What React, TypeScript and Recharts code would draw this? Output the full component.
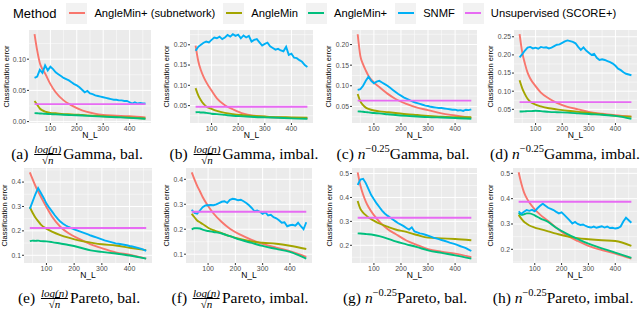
import React from "react";
import { LineChart, Line, XAxis, YAxis, CartesianGrid } from "recharts";

// ──────────────────────────────────────────────
// Data
// ──────────────────────────────────────────────

// N_L values: SNMF curves are read every 10, the smooth ones at fewer points
const N_SNMF = [
  40, 50, 60, 70, 80, 90, 100, 110, 120, 130, 140, 150, 160, 170, 180, 190, 200,
  210, 220, 230, 240, 250, 260, 270, 280, 290, 300, 310, 320, 330, 340, 350, 360,
  370, 380, 390, 400, 410, 420, 430, 440, 450, 460,
];
const N_SMOOTH = [40, 50, 60, 70, 80, 100, 120, 150, 180, 220, 260, 300, 350, 400, 460];
const N_FLAT = [40, 460];

// (a) log(n)/sqrt(n), Gamma, bal.
const A_SUB = [0.14, 0.114, 0.094, 0.084, 0.077, 0.06, 0.047, 0.034, 0.026, 0.018, 0.0135, 0.0105, 0.0095, 0.0085, 0.0065];
const A_MIN = [0.033, 0.027, 0.021, 0.018, 0.016, 0.014, 0.0133, 0.012, 0.0115, 0.0105, 0.0095, 0.0085, 0.0075, 0.0065, 0.005];
const A_PLUS = [0.0135, 0.0133, 0.013, 0.0128, 0.0125, 0.012, 0.0115, 0.011, 0.0104, 0.0097, 0.0088, 0.008, 0.007, 0.006, 0.0045];
const A_SNMF = [
  0.07, 0.072, 0.083, 0.078, 0.09, 0.082, 0.088, 0.084, 0.079, 0.076, 0.073, 0.07, 0.068, 0.066, 0.063, 0.06, 0.058,
  0.055, 0.051, 0.047, 0.049, 0.045, 0.044, 0.042, 0.041, 0.04, 0.039, 0.038, 0.037, 0.036, 0.035, 0.035, 0.034,
  0.034, 0.033, 0.033, 0.031, 0.029, 0.031, 0.029, 0.03, 0.029, 0.029,
];
const A_UNSUP = 0.028;

// (b) log(n)/sqrt(n), Gamma, imbal.
const B_SUB = [0.198, 0.16, 0.137, 0.121, 0.108, 0.087, 0.068, 0.051, 0.041, 0.03, 0.025, 0.0225, 0.0205, 0.0198, 0.0185];
const B_MIN = [0.093, 0.075, 0.063, 0.054, 0.048, 0.042, 0.037, 0.032, 0.029, 0.0265, 0.0245, 0.023, 0.0215, 0.021, 0.02];
const B_PLUS = [0.0335, 0.034, 0.033, 0.033, 0.032, 0.03, 0.029, 0.027, 0.025, 0.0235, 0.022, 0.021, 0.02, 0.0185, 0.0175];
const B_SNMF = [
  0.185, 0.195, 0.2, 0.205, 0.208, 0.206, 0.212, 0.218, 0.216, 0.22, 0.214, 0.218, 0.224, 0.22, 0.226, 0.222, 0.225,
  0.216, 0.223, 0.218, 0.222, 0.208, 0.212, 0.214, 0.206, 0.198, 0.202, 0.205, 0.196, 0.192, 0.188, 0.19, 0.186,
  0.184, 0.195, 0.175, 0.178, 0.168, 0.167, 0.162, 0.158, 0.15, 0.145,
];
const B_UNSUP = 0.047;

// (c) n^-0.25, Gamma, bal.
const C_SUB = [0.225, 0.172, 0.152, 0.137, 0.124, 0.108, 0.097, 0.081, 0.068, 0.056, 0.047, 0.041, 0.033, 0.028, 0.022];
const C_MIN = [0.08, 0.062, 0.053, 0.047, 0.044, 0.04, 0.038, 0.036, 0.034, 0.031, 0.029, 0.027, 0.025, 0.024, 0.024];
const C_PLUS = [0.038, 0.0375, 0.037, 0.036, 0.0355, 0.034, 0.033, 0.031, 0.029, 0.027, 0.0255, 0.024, 0.023, 0.022, 0.02];
const C_SNMF = [
  0.09, 0.092, 0.1, 0.112, 0.122, 0.112, 0.106, 0.11, 0.112, 0.108, 0.104, 0.1, 0.095, 0.09, 0.085, 0.08, 0.076,
  0.072, 0.069, 0.066, 0.063, 0.06, 0.058, 0.056, 0.054, 0.052, 0.051, 0.049, 0.048, 0.047, 0.046, 0.046, 0.045,
  0.044, 0.043, 0.042, 0.042, 0.04, 0.041, 0.039, 0.042, 0.041, 0.043,
];
const C_UNSUP = 0.064;

// (d) n^-0.25, Gamma, imbal.
const D_SUB = [0.257, 0.207, 0.176, 0.151, 0.135, 0.114, 0.096, 0.08, 0.068, 0.057, 0.05, 0.043, 0.038, 0.034, 0.03];
const D_MIN = [0.13, 0.108, 0.092, 0.079, 0.071, 0.063, 0.058, 0.053, 0.05, 0.046, 0.043, 0.04, 0.036, 0.032, 0.03];
const D_PLUS = [0.044, 0.044, 0.0445, 0.045, 0.045, 0.046, 0.045, 0.043, 0.042, 0.041, 0.039, 0.037, 0.035, 0.032, 0.024];
const D_SNMF = [
  0.193, 0.202, 0.212, 0.22, 0.222, 0.218, 0.22, 0.217, 0.222, 0.22, 0.221, 0.218, 0.22, 0.224, 0.228, 0.229, 0.233,
  0.237, 0.24, 0.238, 0.236, 0.232, 0.222, 0.214, 0.221, 0.212, 0.206, 0.2, 0.203, 0.192, 0.186, 0.188, 0.186,
  0.183, 0.18, 0.176, 0.17, 0.162, 0.158, 0.152, 0.148, 0.146, 0.144,
];
const D_UNSUP = 0.07;

// (e) log(n)/sqrt(n), Pareto, bal.
const E_SUB = [0.44, 0.412, 0.385, 0.362, 0.34, 0.298, 0.259, 0.217, 0.19, 0.166, 0.145, 0.129, 0.112, 0.102, 0.086];
const E_MIN = [0.298, 0.274, 0.255, 0.24, 0.226, 0.209, 0.197, 0.183, 0.172, 0.16, 0.152, 0.145, 0.14, 0.131, 0.121];
const E_PLUS = [0.158, 0.16, 0.159, 0.16, 0.158, 0.157, 0.154, 0.148, 0.142, 0.132, 0.12, 0.114, 0.107, 0.099, 0.086];
const E_SNMF = [
  0.29, 0.32, 0.35, 0.375, 0.355, 0.335, 0.312, 0.295, 0.28, 0.264, 0.25, 0.238, 0.229, 0.222, 0.216, 0.211, 0.206,
  0.202, 0.198, 0.194, 0.19, 0.186, 0.181, 0.177, 0.173, 0.169, 0.165, 0.161, 0.158, 0.155, 0.152, 0.149, 0.147,
  0.145, 0.143, 0.141, 0.138, 0.136, 0.133, 0.13, 0.127, 0.123, 0.118,
];
const E_UNSUP = 0.212;

// (f) log(n)/sqrt(n), Pareto, imbal.
const F_SUB = [0.428, 0.4, 0.374, 0.352, 0.329, 0.293, 0.263, 0.229, 0.202, 0.177, 0.157, 0.141, 0.126, 0.112, 0.089];
const F_MIN = [0.262, 0.248, 0.235, 0.228, 0.221, 0.206, 0.196, 0.184, 0.172, 0.16, 0.151, 0.146, 0.142, 0.134, 0.121];
const F_PLUS = [0.199, 0.204, 0.204, 0.203, 0.198, 0.193, 0.189, 0.183, 0.172, 0.157, 0.145, 0.133, 0.121, 0.109, 0.082];
const F_SNMF = [
  0.278, 0.265, 0.262, 0.275, 0.288, 0.295, 0.296, 0.297, 0.296, 0.3, 0.305, 0.31, 0.312, 0.306, 0.318, 0.322, 0.32,
  0.316, 0.318, 0.312, 0.305, 0.296, 0.285, 0.272, 0.275, 0.27, 0.262, 0.268, 0.255, 0.258, 0.248, 0.244, 0.236,
  0.226, 0.228, 0.212, 0.216, 0.218, 0.214, 0.226, 0.212, 0.2, 0.228,
];
const F_UNSUP = 0.27;

// (g) n^-0.25, Pareto, bal.
const G_SUB = [0.505, 0.45, 0.412, 0.383, 0.36, 0.326, 0.299, 0.268, 0.247, 0.22, 0.201, 0.184, 0.173, 0.165, 0.15];
const G_MIN = [0.385, 0.352, 0.337, 0.326, 0.316, 0.303, 0.291, 0.278, 0.266, 0.256, 0.243, 0.232, 0.229, 0.226, 0.221];
const G_PLUS = [0.25, 0.249, 0.248, 0.247, 0.246, 0.243, 0.238, 0.228, 0.216, 0.204, 0.192, 0.179, 0.168, 0.158, 0.144];
const G_SNMF = [
  0.452, 0.475, 0.478, 0.46, 0.435, 0.41, 0.392, 0.375, 0.36, 0.345, 0.333, 0.324, 0.316, 0.308, 0.3, 0.292, 0.286,
  0.28, 0.272, 0.266, 0.275, 0.258, 0.254, 0.25, 0.248, 0.244, 0.24, 0.236, 0.232, 0.229, 0.226, 0.222, 0.219,
  0.215, 0.211, 0.208, 0.205, 0.201, 0.196, 0.192, 0.188, 0.182, 0.176,
];
const G_UNSUP = 0.315;

// (h) n^-0.25, Pareto, imbal.
const H_SUB = [0.504, 0.46, 0.425, 0.402, 0.385, 0.358, 0.337, 0.312, 0.285, 0.255, 0.233, 0.214, 0.197, 0.183, 0.163];
const H_MIN = [0.336, 0.321, 0.309, 0.301, 0.294, 0.286, 0.28, 0.271, 0.262, 0.251, 0.244, 0.24, 0.236, 0.233, 0.214];
const H_PLUS = [0.343, 0.336, 0.338, 0.342, 0.342, 0.334, 0.322, 0.308, 0.285, 0.261, 0.241, 0.222, 0.204, 0.187, 0.166];
const H_SNMF = [
  0.35, 0.34, 0.348, 0.355, 0.352, 0.356, 0.35, 0.362, 0.372, 0.38, 0.372, 0.364, 0.36, 0.355, 0.348, 0.342, 0.346,
  0.336, 0.325, 0.314, 0.302, 0.308, 0.3, 0.296, 0.298, 0.292, 0.288, 0.286, 0.29, 0.285, 0.288, 0.291, 0.286,
  0.29, 0.284, 0.285, 0.282, 0.284, 0.29, 0.31, 0.325, 0.315, 0.305,
];
const H_UNSUP = 0.388;

// ──────────────────────────────────────────────
// Constants
// ──────────────────────────────────────────────

const METHODS = [
  { key: "sub", name: "AngleMin+ (subnetwork)", color: "#F8766D" },
  { key: "min", name: "AngleMin", color: "#A3A500" },
  { key: "plus", name: "AngleMin+", color: "#00BF7D" },
  { key: "snmf", name: "SNMF", color: "#00B0F6" },
  { key: "unsup", name: "Unsupervised (SCORE+)", color: "#E76BF3" },
];

const SANS = '"Liberation Sans", Arial, sans-serif';
const SERIF = '"Liberation Serif", "Times New Roman", serif';
const X_TICKS = [100, 200, 300, 400];
const X_MINOR = [50, 150, 250, 350, 450];
const X_DOMAIN = [19, 481];
const XH = 18;

type PanelSpec = {
  id: string;
  kind: "log" | "pow";
  text: string;
  sub: number[];
  min: number[];
  plus: number[];
  snmf: number[];
  unsup: number;
  yTicks: number[];
  digits: number;
  col: number; // left edge of chart box
  plotLeft: number;
  plotW: number;
  plotTop: number;
  plotH: number;
  labelX: number;
  capX: number;
  capY: number;
};

const TOP = { plotTop: 30, plotH: 93, capY: 143 };
const BOT = { plotTop: 168, plotH: 95, capY: 287 };

const PANELS: PanelSpec[] = [
  { id: "a", kind: "log", text: "Gamma, bal.", sub: A_SUB, min: A_MIN, plus: A_PLUS, snmf: A_SNMF, unsup: A_UNSUP, yTicks: [0, 0.05, 0.1], digits: 2, col: 0, plotLeft: 29, plotW: 122, labelX: 6, capX: 77, ...TOP },
  { id: "b", kind: "log", text: "Gamma, imbal.", sub: B_SUB, min: B_MIN, plus: B_PLUS, snmf: B_SNMF, unsup: B_UNSUP, yTicks: [0.05, 0.1, 0.15, 0.2], digits: 2, col: 160, plotLeft: 190, plotW: 123, labelX: 6.5, capX: 244, ...TOP },
  { id: "c", kind: "pow", text: "Gamma, bal.", sub: C_SUB, min: C_MIN, plus: C_PLUS, snmf: C_SNMF, unsup: C_UNSUP, yTicks: [0.05, 0.1, 0.15, 0.2], digits: 2, col: 320, plotLeft: 352, plotW: 125, labelX: 8.5, capX: 403, ...TOP },
  { id: "d", kind: "pow", text: "Gamma, imbal.", sub: D_SUB, min: D_MIN, plus: D_PLUS, snmf: D_SNMF, unsup: D_UNSUP, yTicks: [0.05, 0.1, 0.15, 0.2, 0.25], digits: 2, col: 480, plotLeft: 514, plotW: 123, labelX: 10, capX: 565, ...TOP },
  { id: "e", kind: "log", text: "Pareto, bal.", sub: E_SUB, min: E_MIN, plus: E_PLUS, snmf: E_SNMF, unsup: E_UNSUP, yTicks: [0.1, 0.2, 0.3, 0.4], digits: 1, col: 0, plotLeft: 24, plotW: 128, labelX: 4, capX: 79, ...BOT },
  { id: "f", kind: "log", text: "Pareto, imbal.", sub: F_SUB, min: F_MIN, plus: F_PLUS, snmf: F_SNMF, unsup: F_UNSUP, yTicks: [0.1, 0.2, 0.3, 0.4], digits: 1, col: 160, plotLeft: 186, plotW: 126, labelX: 6, capX: 240, ...BOT },
  { id: "g", kind: "pow", text: "Pareto, bal.", sub: G_SUB, min: G_MIN, plus: G_PLUS, snmf: G_SNMF, unsup: G_UNSUP, yTicks: [0.2, 0.3, 0.4, 0.5], digits: 1, col: 320, plotLeft: 352, plotW: 125, labelX: 9, capX: 405, ...BOT },
  { id: "h", kind: "pow", text: "Pareto, imbal.", sub: H_SUB, min: H_MIN, plus: H_PLUS, snmf: H_SNMF, unsup: H_UNSUP, yTicks: [0.2, 0.3, 0.4, 0.5], digits: 1, col: 480, plotLeft: 513, plotW: 124, labelX: 10, capX: 563, ...BOT },
];

// ──────────────────────────────────────────────
// Helpers
// ──────────────────────────────────────────────

const zip = (ns: number[], vs: number[]) => ns.map((n, i) => ({ n, v: vs[i] }));

// ggplot-like 5% expansion of the data range
const expand = (vals: number[]) => {
  const lo = Math.min(...vals);
  const hi = Math.max(...vals);
  const pad = (hi - lo) * 0.05;
  return [lo - pad, hi + pad];
};

const minorOf = (ticks: number[], dom: number[]) => {
  const step = ticks[1] - ticks[0];
  const out = ticks.map((t) => t - step / 2).concat(ticks[ticks.length - 1] + step / 2);
  return out.filter((v) => v > dom[0] && v < dom[1]);
};

// ──────────────────────────────────────────────
// Pieces
// ──────────────────────────────────────────────

function Caption({ p }: { p: PanelSpec }) {
  const small = { fontStyle: "italic", fontSize: 11, lineHeight: "10px" } as const;
  return (
    <div
      style={{
        position: "absolute",
        left: p.capX,
        top: p.capY,
        height: 22,
        transform: "translateX(-50%)",
        display: "flex",
        alignItems: "center",
        whiteSpace: "nowrap",
        fontFamily: SERIF,
        fontSize: 15.5,
        lineHeight: "16px",
        color: "#000",
      }}
    >
      <span>({p.id})&nbsp;</span>
      {p.kind === "log" ? (
        <span style={{ display: "inline-flex", flexDirection: "column", alignItems: "center", margin: "0 2px" }}>
          <span style={small}>log(n)</span>
          <span style={{ alignSelf: "stretch", borderTop: "0.8px solid #000" }} />
          <span style={{ ...small, fontStyle: "normal" }}>
            √<span style={{ fontStyle: "italic", borderTop: "0.7px solid #000" }}>n</span>
          </span>
        </span>
      ) : (
        <span>
          <i>n</i>
          <sup style={{ fontSize: 10.5, lineHeight: 0, position: "relative", top: -1 }}>−0.25</sup>
        </span>
      )}
      <span>{p.text}</span>
    </div>
  );
}

function Panel({ p }: { p: PanelSpec }) {
  const yDomain = expand([...p.sub, ...p.min, ...p.plus, ...p.snmf, p.unsup]);
  const series = [
    { ...METHODS[0], data: zip(N_SMOOTH, p.sub), curve: "monotone" },
    { ...METHODS[1], data: zip(N_SMOOTH, p.min), curve: "monotone" },
    { ...METHODS[2], data: zip(N_SMOOTH, p.plus), curve: "monotone" },
    { ...METHODS[3], data: zip(N_SNMF, p.snmf), curve: "linear" },
    { ...METHODS[4], data: zip(N_FLAT, [p.unsup, p.unsup]), curve: "linear" },
  ];
  const yw = p.plotLeft - p.col;
  const tickStyle = { fontSize: 6.8, fill: "#4D4D4D", fontFamily: SANS };

  return (
    <div style={{ position: "absolute", left: p.col, top: p.plotTop }}>
      <LineChart
        width={yw + p.plotW}
        height={p.plotH + XH}
        margin={{ top: 0, right: 0, bottom: 0, left: 0 }}
      >
        <CartesianGrid
          fill="#EBEBEB"
          stroke="#FFFFFF"
          strokeWidth={0.5}
          horizontalValues={minorOf(p.yTicks, yDomain)}
          verticalValues={X_MINOR}
        />
        <CartesianGrid
          stroke="#FFFFFF"
          strokeWidth={1}
          horizontalValues={p.yTicks}
          verticalValues={X_TICKS}
        />
        <XAxis
          type="number"
          dataKey="n"
          domain={X_DOMAIN}
          ticks={X_TICKS}
          interval={0}
          height={XH}
          axisLine={false}
          tickLine={{ stroke: "#333333" }}
          tickSize={2}
          tickMargin={1}
          tick={{ ...tickStyle, fontSize: 7 }}
          label={{
            value: "N_L",
            position: "insideBottom",
            offset: 3,
            fontSize: 8.5,
            fill: "#000",
            fontFamily: SANS,
          }}
        />
        <YAxis
          type="number"
          domain={yDomain}
          ticks={p.yTicks}
          interval={0}
          width={yw}
          axisLine={false}
          tickLine={{ stroke: "#333333" }}
          tickSize={2}
          tickMargin={1}
          tick={tickStyle}
          tickFormatter={(v: number) => v.toFixed(p.digits)}
          label={{
            value: "Classification error",
            angle: -90,
            position: "insideLeft",
            offset: p.labelX,
            fontSize: 7.5,
            fill: "#000",
            fontFamily: SANS,
            style: { textAnchor: "middle" },
          }}
        />
        {series.map((s) => (
          <Line
            key={s.key}
            data={s.data}
            dataKey="v"
            type={s.curve as any}
            stroke={s.color}
            strokeWidth={1.9}
            dot={false}
            activeDot={false}
            isAnimationActive={false}
          />
        ))}
      </LineChart>
    </div>
  );
}

function MethodLegend() {
  return (
    <div
      style={{
        position: "absolute",
        left: 13,
        top: 2,
        height: 22,
        display: "flex",
        alignItems: "center",
        fontFamily: SANS,
        whiteSpace: "nowrap",
      }}
    >
      <span style={{ fontSize: 13, marginRight: 10 }}>Method</span>
      {METHODS.map((m) => (
        <span key={m.key} style={{ display: "flex", alignItems: "center", marginRight: 8 }}>
          <span
            style={{
              width: 21,
              height: 21,
              background: "#F2F2F2",
              display: "flex",
              alignItems: "center",
              justifyContent: "center",
              marginRight: 7,
            }}
          >
            <span style={{ width: 16, height: 2, background: m.color }} />
          </span>
          <span style={{ fontSize: 11.2 }}>{m.name}</span>
        </span>
      ))}
    </div>
  );
}

// ──────────────────────────────────────────────
// Component
// ──────────────────────────────────────────────

export default function App() {
  return (
    <div
      style={{
        position: "absolute",
        left: 0,
        top: 0,
        width: 640,
        height: 309,
        background: "#FFFFFF",
        overflow: "hidden",
      }}
    >
      <MethodLegend />
      {PANELS.map((p) => (
        <Panel key={p.id} p={p} />
      ))}
      {PANELS.map((p) => (
        <Caption key={"cap" + p.id} p={p} />
      ))}
    </div>
  );
}
